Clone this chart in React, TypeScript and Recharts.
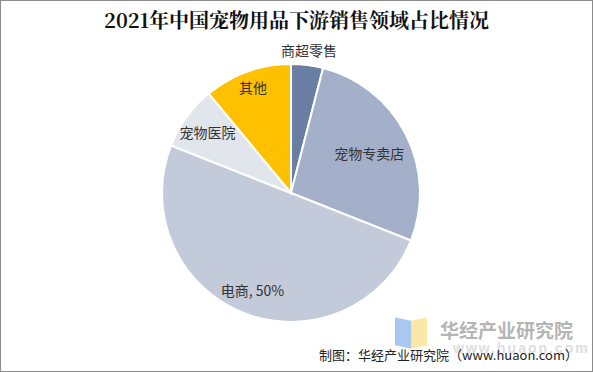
import React from "react";
import { PieChart, Pie, Cell } from "recharts";

const categories = ["商超零售", "宠物专卖店", "电商", "宠物医院", "其他"];
const shares = [4, 27, 50, 8, 11];
const labelTexts = ["商超零售", "宠物专卖店", "电商, 50%", "宠物医院", "其他"];

const colors = ["#6A7DA2", "#A4B0C9", "#C3CAD9", "#E1E5EC", "#FFC000"];
const labelRadiusFactor = [1.12, 0.68, 0.81, 0.8, 0.87];

const data = categories.map((name, i) => ({ name, value: shares[i], label: labelTexts[i] }));

const RAD = Math.PI / 180;

const renderLabel = (props: any) => {
  const { cx, cy, midAngle, outerRadius, index } = props;
  const r = outerRadius * labelRadiusFactor[index];
  const x = cx + r * Math.cos(-midAngle * RAD);
  const y = cy + r * Math.sin(-midAngle * RAD);
  return (
    <text
      x={x}
      y={y}
      textAnchor="middle"
      dominantBaseline="central"
      fill="#333"
      fontSize={14}
      fontFamily="'Noto Sans CJK SC', sans-serif"
    >
      {labelTexts[index]}
    </text>
  );
};

export default function App() {
  return (
    <div
      style={{
        position: "absolute",
        left: 0,
        top: 0,
        width: 593,
        height: 372,
        boxSizing: "border-box",
        border: "1px solid #8c8c8c",
        background: "#fff",
        overflow: "hidden",
      }}
    >
      <div
        style={{
          position: "absolute",
          top: 6,
          left: 0,
          width: 591,
          lineHeight: "26px",
          textAlign: "center",
          fontFamily: "'Noto Serif CJK SC', 'DejaVu Serif', serif",
          fontWeight: "bold",
          fontSize: 20,
          color: "#111",
          whiteSpace: "nowrap",
        }}
      >
        2021年中国宠物用品下游销售领域占比情况
      </div>
      {/* watermark */}
      <div style={{ position: "absolute", left: 394, top: 318, width: 16, height: 28, background: "#a9c8ef", transform: "skewY(12deg)" }} />
      <div style={{ position: "absolute", left: 410, top: 318, width: 16, height: 28, background: "#fbe8a6", transform: "skewY(-12deg)" }} />
      <div
        style={{
          position: "absolute",
          left: 439,
          top: 315,
          fontSize: 19,
          fontWeight: "bold",
          color: "#b5b5b5",
          fontFamily: "'Noto Sans CJK SC', sans-serif",
          whiteSpace: "nowrap",
        }}
      >
        华经产业研究院
      </div>
      <div
        style={{
          position: "absolute",
          left: 452,
          top: 339,
          fontSize: 14,
          fontWeight: "bold",
          color: "#dedede",
          fontFamily: "'Liberation Sans', sans-serif",
          letterSpacing: 2,
          whiteSpace: "nowrap",
        }}
      >
        www.huaon.com
      </div>
      <div style={{ position: "absolute", left: 0, top: 0 }}>
        <PieChart width={591} height={370} margin={{ top: 0, right: 0, bottom: 0, left: 0 }}>
          <Pie
            data={data}
            dataKey="value"
            nameKey="name"
            cx={290}
            cy={192}
            outerRadius={129}
            startAngle={90}
            endAngle={-270}
            stroke="#fff"
            strokeWidth={2}
            label={renderLabel}
            labelLine={false}
            isAnimationActive={false}
          >
            {data.map((d, i) => (
              <Cell key={d.name} fill={colors[i]} />
            ))}
          </Pie>
        </PieChart>
      </div>
      <div
        style={{
          position: "absolute",
          right: 14,
          top: 344,
          fontSize: 13,
          color: "#222",
          fontFamily: "'Noto Sans CJK SC', sans-serif",
          whiteSpace: "nowrap",
        }}
      >
        制图：华经产业研究院（www.huaon.com）
      </div>
    </div>
  );
}
